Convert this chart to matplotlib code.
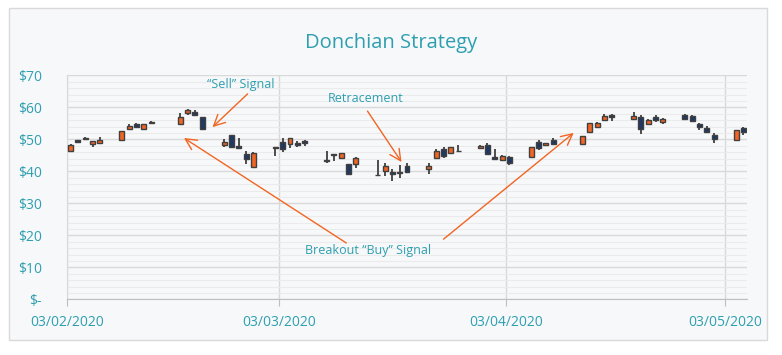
import matplotlib
matplotlib.use('Agg')
import matplotlib.pyplot as plt
import matplotlib.dates as mdates
from matplotlib.patches import Rectangle
import pandas as pd
import numpy as np

dates = ['2020-02-03', '2020-02-04', '2020-02-05', '2020-02-06', '2020-02-07',
         '2020-02-10', '2020-02-11', '2020-02-12', '2020-02-13', '2020-02-14',
         '2020-02-18', '2020-02-19', '2020-02-20', '2020-02-21',
         '2020-02-24', '2020-02-25', '2020-02-26', '2020-02-27', '2020-02-28',
         '2020-03-02', '2020-03-03', '2020-03-04', '2020-03-05', '2020-03-06',
         '2020-03-09', '2020-03-10', '2020-03-11', '2020-03-12', '2020-03-13',
         '2020-03-16', '2020-03-17', '2020-03-18', '2020-03-19', '2020-03-20',
         '2020-03-23', '2020-03-24', '2020-03-25', '2020-03-26', '2020-03-27',
         '2020-03-30', '2020-03-31', '2020-04-01', '2020-04-02', '2020-04-03',
         '2020-04-06', '2020-04-07', '2020-04-08', '2020-04-09',
         '2020-04-13', '2020-04-14', '2020-04-15', '2020-04-16', '2020-04-17',
         '2020-04-20', '2020-04-21', '2020-04-22', '2020-04-23', '2020-04-24',
         '2020-04-27', '2020-04-28', '2020-04-29', '2020-04-30', '2020-05-01',
         '2020-05-04', '2020-05-05']
opens = [46.4, 49.7, 50.3, 48.6, 48.9,
         49.7, 53.3, 54.8, 53.3, 55.4,
         54.9, 58.1, 58.4, 56.9,
         48.2, 51.3, 48.0, 45.4, 41.25,
         47.5, 49.2, 48.4, 48.9, 49.4,
         43.4, 45.3, 44.25, 42.2, 42.3,
         39.0, 40.2, 39.7, 39.7, 41.7,
         40.6, 44.1, 46.9, 45.8, 46.5,
         47.2, 48.2, 44.5, 43.4, 44.5,
         44.4, 49.1, 48.1, 49.8,
         48.4, 52.2, 53.75, 55.9, 57.6,
         56.25, 56.9, 54.9, 57.0, 55.3,
         57.6, 57.3, 54.8, 53.5, 51.4,
         49.9, 53.5]
highs = [48.5, 49.8, 50.6, 49.5, 50.6,
         52.6, 54.7, 55.1, 54.8, 55.7,
         58.1, 59.5, 59.1, 57.0,
         50.0, 51.5, 50.3, 46.3, 46.1,
         47.7, 50.3, 50.4, 49.5, 49.7,
         46.3, 45.4, 45.7, 42.3, 44.5,
         43.4, 42.6, 40.6, 41.9, 42.5,
         42.6, 47.0, 47.7, 47.6, 48.1,
         48.3, 48.75, 46.9, 45.1, 44.9,
         47.6, 49.9, 48.8, 50.5,
         51.0, 55.1, 55.5, 57.9, 57.9,
         58.6, 57.7, 56.3, 57.5, 56.75,
         57.9, 57.6, 55.1, 54.25, 52.1,
         52.9, 53.9]
lows = [46.0, 48.75, 49.7, 47.7, 48.7,
        49.5, 53.0, 53.6, 53.2, 54.7,
        54.8, 57.5, 57.2, 53.0,
        47.5, 47.4, 47.0, 42.2, 41.0,
        44.8, 45.9, 47.3, 47.6, 47.9,
        42.6, 43.3, 43.8, 39.1, 40.9,
        38.6, 38.6, 37.0, 37.8, 39.6,
        39.2, 44.0, 44.1, 45.3, 46.0,
        47.1, 45.4, 43.4, 43.3, 42.0,
        44.3, 46.75, 48.0, 48.4,
        48.3, 52.1, 53.4, 55.6, 55.7,
        56.0, 51.7, 54.4, 55.5, 54.8,
        56.25, 55.6, 52.9, 52.0, 48.9,
        49.8, 51.25]
closes = [48.2, 49.3, 50.0, 49.5, 49.9,
          52.5, 54.1, 53.9, 54.7, 55.0,
          56.9, 59.1, 57.5, 53.3,
          49.2, 47.5, 47.2, 43.9, 45.6,
          47.3, 46.9, 50.3, 48.2, 48.75,
          43.2, 45.1, 45.6, 39.2, 44.1,
          38.8, 41.75, 39.2, 39.5, 39.7,
          41.6, 46.25, 44.7, 47.5, 46.3,
          47.8, 45.5, 43.75, 44.8, 42.5,
          47.5, 47.4, 48.75, 48.4,
          51.0, 55.1, 55.1, 57.3, 56.9,
          57.3, 53.1, 55.9, 56.0, 56.25,
          56.4, 55.6, 53.75, 52.4, 50.0,
          52.8, 52.2]

tick_dates = ['2020-02-03', '2020-03-03', '2020-04-03', '2020-05-03']
y_ticks = [0, 10, 20, 30, 40, 50, 60, 70]
y_labels = ['$-', '$10', '$20', '$30', '$40', '$50', '$60', '$70']

teal = '#2E9FB0'
orange = '#F26522'
navy = '#1F3864'
edge = '#404040'
bg = '#F7F8FA'

plt.rcParams['font.family'] = ['Open Sans', 'DejaVu Sans']

fig = plt.figure(figsize=(7.82, 3.55), dpi=100, facecolor='white')
frame = Rectangle((9 / 782, 1 - 340 / 355), 758 / 782, 332 / 355,
                  transform=fig.transFigure, facecolor=bg,
                  edgecolor='#D9D9D9', lw=1, zorder=-5)
fig.patches.append(frame)
ax = fig.add_axes([67 / 782, 1 - 299.3 / 355, 680 / 782, 224 / 355])
ax.set_facecolor(bg)
ax.set_zorder(1)

x = mdates.date2num(pd.to_datetime(dates)) + 0.5
o = np.array(opens)
c = np.array(closes)
up = c >= o
colors = np.where(up, orange, navy)

ax.vlines(x, lows, highs, color=edge, lw=1.3, zorder=3)
ax.bar(x, np.abs(c - o), bottom=np.minimum(o, c), width=0.68, color=colors,
       edgecolor=edge, linewidth=1, zorder=4)

x0 = mdates.date2num(pd.Timestamp('2020-02-03'))
ax.set_xlim(x0, x0 + 93)
ax.set_ylim(0, 70)

ax.set_yticks(y_ticks)
ax.set_yticklabels(y_labels)
ax.set_yticks(np.arange(0, 70, 2), minor=True)
ax.grid(axis='y', which='minor', color='#EBEBEB', lw=0.8, zorder=0)
ax.grid(axis='y', which='major', color='#D9D9D9', lw=1, zorder=1)

ticks = mdates.date2num(pd.to_datetime(tick_dates))
ax.set_xticks(ticks)
ax.set_xticklabels(pd.to_datetime(tick_dates).strftime('%d/%m/%Y'))
ax.grid(axis='x', which='major', color='#D9D9D9', lw=1, zorder=1)
ax.set_axisbelow(True)

ax.tick_params(axis='y', which='both', length=0, pad=18, labelsize=10, labelcolor=teal)
ax.tick_params(axis='x', which='major', length=5, color='#BFBFBF', pad=6,
               labelsize=10, labelcolor=teal)
ax.tick_params(axis='x', which='minor', length=0)
for s in ['top', 'right']:
    ax.spines[s].set_visible(False)
ax.spines['left'].set_color('#D9D9D9')
ax.spines['bottom'].set_color('#BFBFBF')

fig.text(0.5, 1 - 43 / 355, 'Donchian Strategy', ha='center', va='center',
         fontsize=14.5, color=teal)

arrow = dict(arrowstyle='->', color=orange, lw=1, mutation_scale=20, shrinkA=0, shrinkB=0)
ax.text(x0 + 23.7, 67.0, '\u201cSell\u201d Signal', ha='center', va='center',
        fontsize=9, color=teal)
ax.annotate('', xy=(x0 + 19.9, 53.8), xytext=(x0 + 24.7, 64.2), arrowprops=arrow)
ax.text(x0 + 40.8, 62.9, 'Retracement', ha='center', va='center',
        fontsize=9, color=teal)
ax.annotate('', xy=(x0 + 45.75, 42.9), xytext=(x0 + 41.1, 58.8), arrowprops=arrow)
ax.text(x0 + 41.2, 15.1, 'Breakout \u201cBuy\u201d Signal', ha='center', va='center',
        fontsize=9, color=teal)
ax.annotate('', xy=(x0 + 16.0, 50.4), xytext=(x0 + 38.2, 17.6), arrowprops=arrow)
ax.annotate('', xy=(x0 + 69.3, 52.0), xytext=(x0 + 51.5, 18.8), arrowprops=arrow)

fig.savefig('out.png', dpi=100, facecolor='white')
